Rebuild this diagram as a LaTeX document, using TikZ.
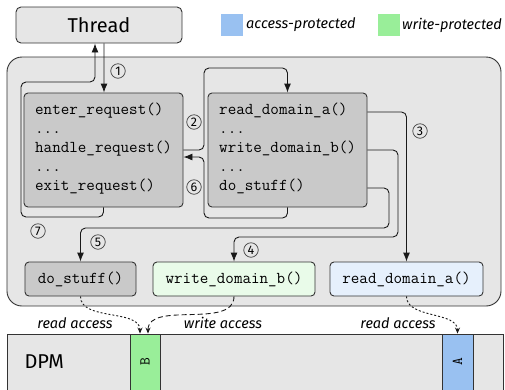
\documentclass[tikz,border=0pt]{standalone}
\usepackage{fontspec}
\setmainfont{Fira Sans}
\usetikzlibrary{arrows.meta,calc}
\definecolor{cont}{HTML}{E6E6E6}
\definecolor{codef}{HTML}{C9C9C9}
\definecolor{edge}{HTML}{333333}
\definecolor{wfill}{HTML}{E9FBE9}
\definecolor{rfill}{HTML}{E6F0FC}
\definecolor{legb}{HTML}{99C1F1}
\definecolor{legg}{HTML}{99EE99}
\begin{document}
\begin{tikzpicture}[x=1bp,y=-1bp,
  rbox/.style={draw=edge,line width=0.9bp,rounded corners=4bp,inner sep=0pt},
  codeline/.style={anchor=west,inner sep=0pt,font=\fontsize{16.6bp}{18bp}\ttfamily,text height=0.62em,text depth=0.18em},
  boxtext/.style={font=\fontsize{16.6bp}{18bp}\ttfamily},
  arr/.style={draw=black!90,line width=0.9bp,rounded corners=5bp,-{Latex[length=9bp,width=7bp]}},
  acc/.style={draw=black!90,line width=0.9bp,-{Stealth[length=6bp,width=5bp]}},
  num/.style={circle,draw=black!75,line width=0.7bp,inner sep=0.6bp,minimum size=14.5bp,font=\fontsize{12.5bp}{12.5bp}\rmfamily},
  lab/.style={font=\fontsize{14.5bp}{14.5bp}\itshape,inner sep=0pt},
  seglab/.style={rotate=90,inner sep=0pt,font=\ttfamily\fontsize{15bp}{15bp}\selectfont}
]
\useasboundingbox (0,0) rectangle (505,389);
% container
\node[rbox,fill=cont,rounded corners=15bp,minimum width=494bp,minimum height=249bp] (cont) at (254,181.5) {};
% thread
\node[rbox,fill=cont,rounded corners=5bp,minimum width=166bp,minimum height=36bp,font=\fontsize{20bp}{20bp}\selectfont] (thread) at (99,25) {Thread};
% legend
\node[fill=legb,minimum size=22bp,inner sep=0pt] (legA) at (232,25) {};
\node[lab,anchor=west] (legAt) at (246,25) {access-protected};
\node[fill=legg,minimum size=22bp,inner sep=0pt] (legB) at (389,25) {};
\node[lab,anchor=west] (legBt) at (402,25) {write-protected};
% code boxes
\node[rbox,fill=codef,minimum width=159bp,minimum height=114bp] (lbox) at (103.5,150) {};
\node[rbox,fill=codef,minimum width=159bp,minimum height=114bp] (rbox) at (287.5,150) {};
\node[codeline] (l1) at (35,112) {enter\_request()};
\node[codeline] (l2) at (35,131) {...};
\node[codeline] (l3) at (35,150) {handle\_request()};
\node[codeline] (l4) at (35,169) {...};
\node[codeline] (l5) at (35,188) {exit\_request()};
\node[codeline] (r1) at (219,112) {read\_domain\_a()};
\node[codeline] (r2) at (219,131) {...};
\node[codeline] (r3) at (219,150) {write\_domain\_b()};
\node[codeline] (r4) at (219,169) {...};
\node[codeline] (r5) at (219,188) {do\_stuff()};
% bottom boxes
\node[rbox,fill=codef,minimum width=111bp,minimum height=34bp,boxtext] (dbox) at (80.5,279) {do\_stuff()};
\node[rbox,fill=wfill,minimum width=162bp,minimum height=34bp,boxtext] (wbox) at (234,279) {write\_domain\_b()};
\node[rbox,fill=rfill,minimum width=153bp,minimum height=34bp,boxtext] (rdbox) at (406.5,279) {read\_domain\_a()};
% DPM strip
\node[draw=edge,line width=0.9bp,fill=cont,minimum width=496bp,minimum height=70bp,inner sep=0pt] (dpm) at (255,369) {};
\node[font=\fontsize{20bp}{20bp}\selectfont,anchor=west] (dpmt) at (21,362) {DPM};
\node[draw=edge,line width=0.9bp,fill=legg,minimum width=30bp,minimum height=70bp,inner sep=0pt] (segB) at (145,369) {};
\node[draw=edge,line width=0.9bp,fill=legb,minimum width=31bp,minimum height=70bp,inner sep=0pt] (segA) at (457.5,369) {};
\node[seglab] (Bt) at (145,362) {B};
\node[seglab] (At) at (457.5,362) {A};
% connectors
\coordinate (c7a) at (21,217);
\coordinate (c7b) at (95,82);
\draw[arr] (lbox.south) |- (c7a) |- (c7b) -- ($(thread.south)+(-4,0)$);
\draw[arr] ($(thread.south)+(5,0)$) -- ($(lbox.north)+(0.5,0)$);
\coordinate (c2) at (204,68);
\draw[arr] (lbox.east |- l3) -| (c2) -| (rbox.north);
\coordinate (c6) at (204,218);
\draw[arr] (rbox.south) |- (c6) |- ($(lbox.east)+(0,7)$);
\draw[arr] (rbox.east |- r1) -| (rdbox.north);
\coordinate (c4) at (398,237);
\draw[arr] (rbox.east |- r3) -| (c4) -| (wbox.north);
\coordinate (c5) at (389,228);
\draw[arr] (rbox.east |- r5) -| (c5) -| (dbox.north);
% access arrows
\draw[acc,dash pattern=on 2bp off 2bp] (dbox.south) to[out=-90,in=90,looseness=0.9] ($(segB.north)+(-5,0)$);
\draw[acc,dash pattern=on 5bp off 3bp] (wbox.south) to[out=-90,in=90,looseness=0.9] ($(segB.north)+(3,0)$);
\draw[acc,dash pattern=on 2bp off 2bp] (rdbox.south) to[out=-90,in=90,looseness=0.9] (segA.north);
\node[lab] (ra1) at (75,323) {read access};
\node[lab] (wa) at (223,323) {write access};
\node[lab] (ra2) at (398,323) {read access};
% step numbers
\node[num] (n1) at (118,71) {1};
\node[num] (n2) at (194,122) {2};
\node[num] (n3) at (420,131) {3};
\node[num] (n4) at (251,250) {4};
\node[num] (n5) at (98,242) {5};
\node[num] (n6) at (194,187) {6};
\node[num] (n7) at (38,231) {7};
\end{tikzpicture}
\end{document}
